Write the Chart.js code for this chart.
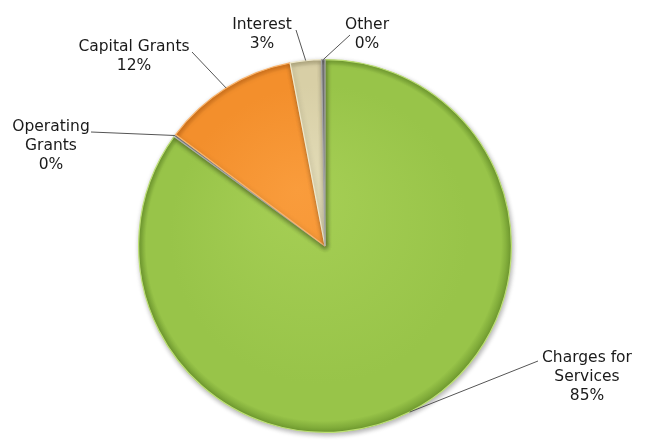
<!DOCTYPE html>
<html>
<head>
<meta charset="utf-8">
<script src="https://cdn.jsdelivr.net/npm/chart.js@4.4.1/dist/chart.umd.min.js"></script>
<style>
  html, body { margin: 0; padding: 0; background: #fff; }
  #wrap { width: 653px; height: 445px; position: relative; }
</style>
</head>
<body>
<div id="wrap"><canvas id="revenuePie" width="653" height="445"></canvas></div>
<script>
  const categories = ['Charges for Services', 'Operating Grants', 'Capital Grants', 'Interest', 'Other'];
  const revenueShare = [85.0, 0.2, 11.8, 2.7, 0.3];
  const labelLines = [['Charges for', 'Services'], ['Operating', 'Grants'], ['Capital Grants'], ['Interest'], ['Other']];

  // slice colours: light, base, rim shade, edge highlight
  const sliceColors = [
    ['#a6cf55', '#98c449', '#6f9a2f', '#bde075'],
    ['#b0b0b0', '#a0a0a0', '#707070', '#c8c8c8'],
    ['#f99c3c', '#f38f2c', '#d0701a', '#fbb46a'],
    ['#e3dcb8', '#d8cfa6', '#aea57c', '#efe9cc'],
    ['#8a8a8a', '#7a7a7a', '#555555', '#a4a4a4']
  ];

  // where each label sits (centre x, first line y) and where its leader starts
  const labelSpots = [
    { x: 587, y: 358, lx: 538, ly: 361 },
    { x: 51, y: 127, lx: 91, ly: 132 },
    { x: 134, y: 47, lx: 192, ly: 52 },
    { x: 262, y: 25, lx: 296, ly: 30 },
    { x: 367, y: 25, lx: 350, ly: 35 }
  ];

  const total = revenueShare.reduce((a, b) => a + b, 0);

  function sliceFill(ctx) {
    const chart = ctx.chart;
    const area = chart.chartArea;
    const c = sliceColors[ctx.dataIndex];
    if (!area) return c[1];
    const cx = (area.left + area.right) / 2;
    const cy = (area.top + area.bottom) / 2;
    const r = Math.min(area.right - area.left, area.bottom - area.top) / 2;
    const g = chart.ctx.createRadialGradient(cx - r * 0.15, cy - r * 0.3, 0, cx, cy, r);
    g.addColorStop(0, c[0]);
    g.addColorStop(0.8, c[1]);
    g.addColorStop(0.95, c[1]);
    g.addColorStop(1, c[2]);
    return g;
  }

  const shadowPlugin = {
    id: 'pieShadow',
    beforeDatasetDraw(chart) {
      const ctx = chart.ctx;
      ctx.save();
      ctx.shadowColor = 'rgba(0,0,0,0.3)';
      ctx.shadowBlur = 5;
      ctx.shadowOffsetX = 1;
      ctx.shadowOffsetY = 2;
    },
    afterDatasetDraw(chart) {
      chart.ctx.restore();
    }
  };

  const labelPlugin = {
    id: 'sliceLabels',
    afterDraw(chart) {
      const ctx = chart.ctx;
      const meta = chart.getDatasetMeta(0);
      ctx.save();
      ctx.font = '15.5px "DejaVu Sans", Verdana, sans-serif';
      ctx.fillStyle = '#1a1a1a';
      ctx.textAlign = 'center';
      ctx.textBaseline = 'middle';
      meta.data.forEach((arc, i) => {
        const mid = (arc.startAngle + arc.endAngle) / 2;
        const rx = arc.x + Math.cos(mid) * arc.outerRadius;
        const ry = arc.y + Math.sin(mid) * arc.outerRadius;
        const spot = labelSpots[i];
        ctx.strokeStyle = '#555';
        ctx.lineWidth = 1;
        ctx.beginPath();
        ctx.moveTo(spot.lx, spot.ly);
        ctx.lineTo(rx, ry);
        ctx.stroke();
        const pct = Math.round(revenueShare[i] / total * 100) + '%';
        const lines = labelLines[i].concat(pct);
        lines.forEach((t, k) => ctx.fillText(t, spot.x, spot.y + k * 19));
      });
      ctx.restore();
    }
  };

  new Chart(document.getElementById('revenuePie'), {
    type: 'pie',
    data: {
      labels: categories,
      datasets: [{
        data: revenueShare,
        backgroundColor: sliceFill,
        borderColor: sliceColors.map(c => c[3]),
        borderWidth: 1.2
      }]
    },
    options: {
      responsive: false,
      animation: false,
      layout: { padding: { top: 59, bottom: 12, left: 138, right: 141 } },
      plugins: {
        legend: { display: false },
        tooltip: { enabled: false },
        title: { display: false }
      }
    },
    plugins: [shadowPlugin, labelPlugin]
  });
</script>
</body>
</html>
